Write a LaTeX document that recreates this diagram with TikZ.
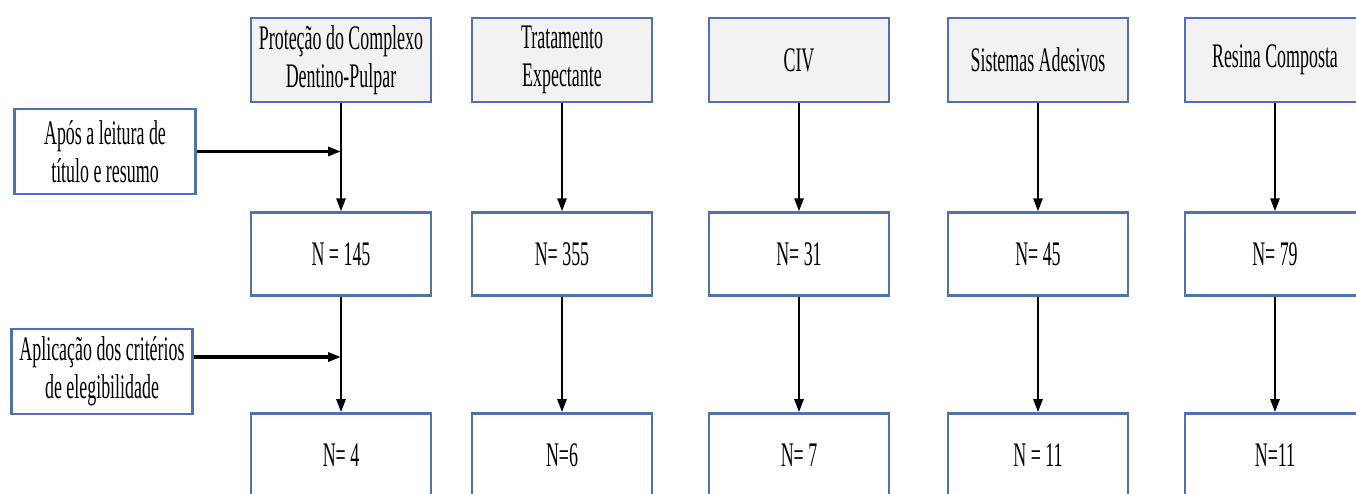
\documentclass[tikz,border=0pt]{standalone}
\usepackage{fontspec}
\setmainfont{Liberation Serif}[FakeStretch=0.52]
\usepackage{tikz}
\usetikzlibrary{arrows.meta, positioning}
\definecolor{boxblue}{RGB}{79,113,172}
\definecolor{topgray}{RGB}{242,242,242}

\begin{document}
\begin{tikzpicture}[
    node distance=1.08cm and 0.4cm,
    box/.style={rectangle, draw=boxblue, line width=0.8pt, minimum width=1.80cm,
                minimum height=0.84cm, align=center, inner sep=1pt,
                font=\fontsize{9.8}{10.8}\selectfont},
    theme/.style={box, fill=topgray},
    count/.style={box, fill=white, minimum height=0.83cm},
    filter/.style={box, fill=white, minimum width=1.81cm, minimum height=0.85cm},
    arrow/.style={-{Triangle[length=0.13cm, width=0.09cm]}, line width=0.7pt},
    harrow/.style={arrow, line width=0.9pt}
]
\useasboundingbox (0,0) rectangle (13.56,-4.94);
\clip (0,0) rectangle (13.56,-4.94);

%% Theme nodes (top row)
\node[theme] (t1) at (3.41,-0.60) {Proteção do Complexo\\Dentino-Pulpar};
\node[theme] (t2) at (5.62,-0.60) {Tratamento\\Expectante};
\node[theme] (t3) at (7.99,-0.60) {CIV};
\node[theme] (t4) at (10.38,-0.60) {Sistemas Adesivos};
\node[theme] (t5) at (12.75,-0.60) {Resina Composta};

%% Counts after title and abstract
\node[count, below=of t1] (n1) {N = 145};
\node[count, below=of t2] (n2) {N= 355};
\node[count, below=of t3] (n3) {N= 31};
\node[count, below=of t4] (n4) {N= 45};
\node[count, below=of t5] (n5) {N= 79};

%% Counts after eligibility criteria
\node[count, below=1.15cm of n1] (f1) {N= 4};
\node[count, below=1.15cm of n2] (f2) {N=6};
\node[count, below=1.15cm of n3] (f3) {N= 7};
\node[count, below=1.15cm of n4] (f4) {N = 11};
\node[count, below=1.15cm of n5] (f5) {N=11};

%% Filter steps on the left
\node[filter] (read)  at (1.05,-1.515) {Após a leitura de\\título e resumo};
\node[filter] (elig)  at (1.02,-3.715) {Aplicação dos critérios\\de elegibilidade};

\coordinate (jread) at (read.east -| t1);
\coordinate (jelig) at (3.41,-3.57);

%% Arrows: themes -> counts
\draw[arrow] (t1) -- (n1);
\draw[arrow] (t2) -- (n2);
\draw[arrow] (t3) -- (n3);
\draw[arrow] (t4) -- (n4);
\draw[arrow] (t5) -- (n5);

%% Arrows: counts -> final counts
\draw[arrow] (n1) -- (f1);
\draw[arrow] (n2) -- (f2);
\draw[arrow] (n3) -- (f3);
\draw[arrow] (n4) -- (f4);
\draw[arrow] (n5) -- (f5);

%% Arrows: filter steps
\draw[harrow] (read.east) -- (jread);
\draw[harrow] (elig.east |- jelig) -- (jelig);

\end{tikzpicture}
\end{document}
